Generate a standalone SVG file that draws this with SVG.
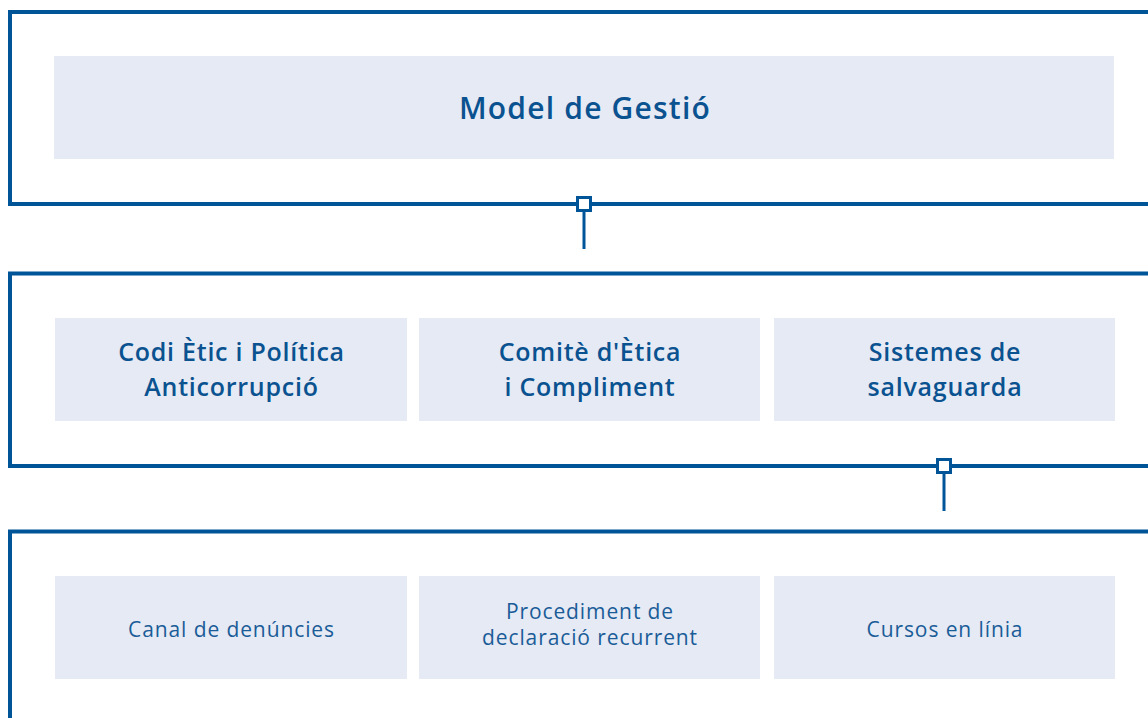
<svg xmlns="http://www.w3.org/2000/svg" width="1148" height="718" viewBox="0 0 1148 718">
<style>
.frame{fill:none;stroke:#005598;stroke-width:4}
.box{fill:#e6eaf4}
.conn{stroke:#005598;stroke-width:3;fill:none}
.sq{fill:#fff;stroke:#005598;stroke-width:3}
.t1{font-family:"Open Sans","Liberation Sans",sans-serif;font-weight:600;font-size:30px;letter-spacing:1.2px;fill:#0a5290;text-anchor:middle}
.t2{font-family:"Open Sans","Liberation Sans",sans-serif;font-weight:600;font-size:25px;letter-spacing:0.75px;fill:#0a5290;text-anchor:middle}
.t3{font-family:"Open Sans","Liberation Sans",sans-serif;font-weight:400;font-size:21px;letter-spacing:0.9px;fill:#1a5c98;text-anchor:middle}
</style>
<rect width="1148" height="718" fill="#fff"/>
<g id="frame-top"><path class="frame" d="M1150,12 H10 V204 H1150"/></g>
<g id="frame-middle"><path class="frame" d="M1150,273.5 H10 V466 H1150"/></g>
<g id="frame-bottom"><path class="frame" d="M1150,531.5 H10 V720"/></g>
<g id="connectors">
<line class="conn" x1="584" y1="211" x2="584" y2="249"/>
<rect class="sq" x="577.5" y="197.5" width="13" height="13"/>
<line class="conn" x1="944" y1="472" x2="944" y2="511"/>
<rect class="sq" x="937.5" y="459.5" width="13" height="13"/>
</g>
<g id="model-gestio"><rect class="box" x="54" y="56" width="1060" height="103"/><text class="t1" x="585" y="119">Model de Gestió</text></g>
<g id="codi-etic"><rect class="box" x="55" y="318" width="352" height="103"/><text class="t2" x="231.5" y="361">Codi Ètic i Política</text><text class="t2" x="231.5" y="396">Anticorrupció</text></g>
<g id="comite"><rect class="box" x="419" y="318" width="341" height="103"/><text class="t2" x="590" y="361">Comitè d'Ètica</text><text class="t2" x="590" y="396">i Compliment</text></g>
<g id="sistemes"><rect class="box" x="774" y="318" width="341" height="103"/><text class="t2" x="945" y="361">Sistemes de</text><text class="t2" x="945" y="396">salvaguarda</text></g>
<g id="canal"><rect class="box" x="55" y="576" width="352" height="103"/><text class="t3" x="231.5" y="637">Canal de denúncies</text></g>
<g id="procediment"><rect class="box" x="419" y="576" width="341" height="103"/><text class="t3" x="590" y="619">Procediment de</text><text class="t3" x="590" y="645">declaració recurrent</text></g>
<g id="cursos"><rect class="box" x="774" y="576" width="341" height="103"/><text class="t3" x="945" y="637">Cursos en línia</text></g>
</svg>
